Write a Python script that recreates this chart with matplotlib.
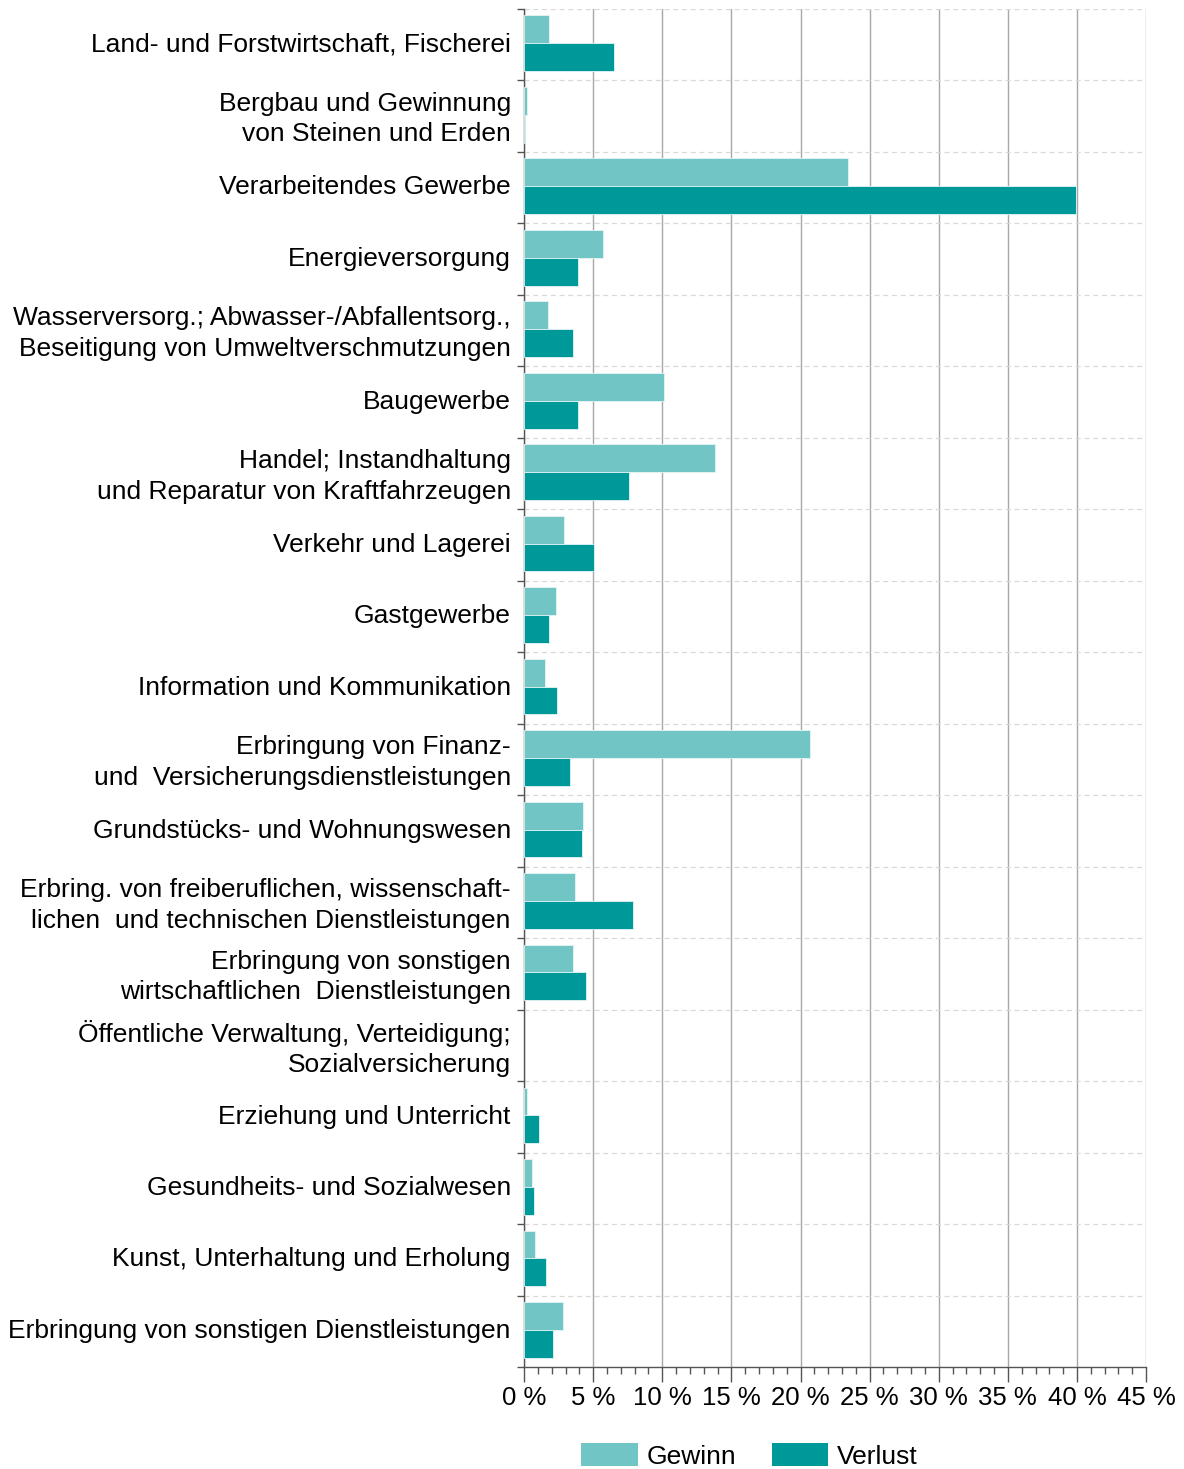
import numpy as np
import matplotlib.pyplot as plt
from matplotlib.patches import Patch
from matplotlib.ticker import MultipleLocator, FixedLocator

plt.rcParams['font.family'] = ['Liberation Sans', 'DejaVu Sans']

categories = [
    "Land- und Forstwirtschaft, Fischerei",
    "Bergbau und Gewinnung\nvon Steinen und Erden",
    "Verarbeitendes Gewerbe",
    "Energieversorgung",
    "Wasserversorg.; Abwasser-/Abfallentsorg.,\nBeseitigung von Umweltverschmutzungen",
    "Baugewerbe",
    "Handel; Instandhaltung\nund Reparatur von Kraftfahrzeugen",
    "Verkehr und Lagerei",
    "Gastgewerbe",
    "Information und Kommunikation",
    "Erbringung von Finanz-\nund  Versicherungsdienstleistungen",
    "Grundstücks- und Wohnungswesen",
    "Erbring. von freiberuflichen, wissenschaft-\nlichen  und technischen Dienstleistungen",
    "Erbringung von sonstigen\nwirtschaftlichen  Dienstleistungen",
    "Öffentliche Verwaltung, Verteidigung;\nSozialversicherung",
    "Erziehung und Unterricht",
    "Gesundheits- und Sozialwesen",
    "Kunst, Unterhaltung und Erholung",
    "Erbringung von sonstigen Dienstleistungen",
]

gewinn = [1.8, 0.2, 23.4, 5.7, 1.7, 10.1, 13.8, 2.9, 2.3, 1.5,
          20.7, 4.3, 3.7, 3.55, 0.0, 0.2, 0.6, 0.8, 2.8]
verlust = [6.5, 0.1, 39.9, 3.9, 3.55, 3.9, 7.6, 5.05, 1.8, 2.4,
           3.3, 4.2, 7.9, 4.5, 0.0, 1.1, 0.75, 1.6, 2.1]

x_ticks = list(range(0, 50, 5))
x_labels = [f"{t} %" for t in x_ticks]

c_gewinn = '#71C5C5'
c_verlust = '#009999'

fig = plt.figure(figsize=(11.84, 14.69), dpi=100)
ax = fig.add_axes([0.4426, 0.0694, 0.9680 - 0.4426, 0.9939 - 0.0694])

y = np.arange(len(categories))
h = 0.39
lw_g = [0.6 if v > 0 else 0 for v in gewinn]
lw_v = [0.6 if v > 0 else 0 for v in verlust]
ax.barh(y - 0.215, gewinn, height=h, color=c_gewinn, edgecolor='#E6F4F4', linewidth=lw_g, zorder=3)
ax.barh(y + 0.175, verlust, height=h, color=c_verlust, edgecolor='#E6F4F4', linewidth=lw_v, zorder=3)

ax.set_xlim(0, 45)
ax.set_ylim(len(categories) - 0.5, -0.5)

ax.set_xticks(x_ticks)
ax.set_xticklabels(x_labels, fontsize=18.5)
ax.xaxis.set_minor_locator(MultipleLocator(1))
ax.tick_params(axis='x', which='major', length=11, width=1, color='#555555', pad=3)
ax.tick_params(axis='x', which='minor', length=5, width=1, color='#555555')

# labels sit slightly above the row centre, as in the original
ax.set_yticks(y - 0.04)
ax.set_yticklabels(categories, fontsize=19, ha='right', linespacing=1.35)
ax.yaxis.set_minor_locator(FixedLocator(np.arange(-0.5, len(categories), 1.0)))
ax.tick_params(axis='y', which='major', length=0, pad=9.5)
ax.tick_params(axis='y', which='minor', length=5, width=1, color='#555555')

ax.grid(axis='x', which='major', color='#A8A8A8', linewidth=1, zorder=0)
ax.grid(axis='y', which='minor', color='#D8D8D8', linestyle=(0, (4, 3)), linewidth=0.9, zorder=0)
ax.grid(axis='y', which='major', visible=False)

for s in ['top', 'right']:
    ax.spines[s].set_visible(False)
for s in ['left', 'bottom']:
    ax.spines[s].set_color('#555555')
    ax.spines[s].set_linewidth(1)

handles = [Patch(facecolor=c_gewinn, label='Gewinn'),
           Patch(facecolor=c_verlust, label='Verlust')]
fig.legend(handles=handles, loc='center', bbox_to_anchor=(0.633, 0.009), ncol=2,
           frameon=False, fontsize=19, handlelength=2.15, handleheight=1.0,
           handletextpad=0.32, columnspacing=1.35)

fig.savefig('out.png', dpi=100)
